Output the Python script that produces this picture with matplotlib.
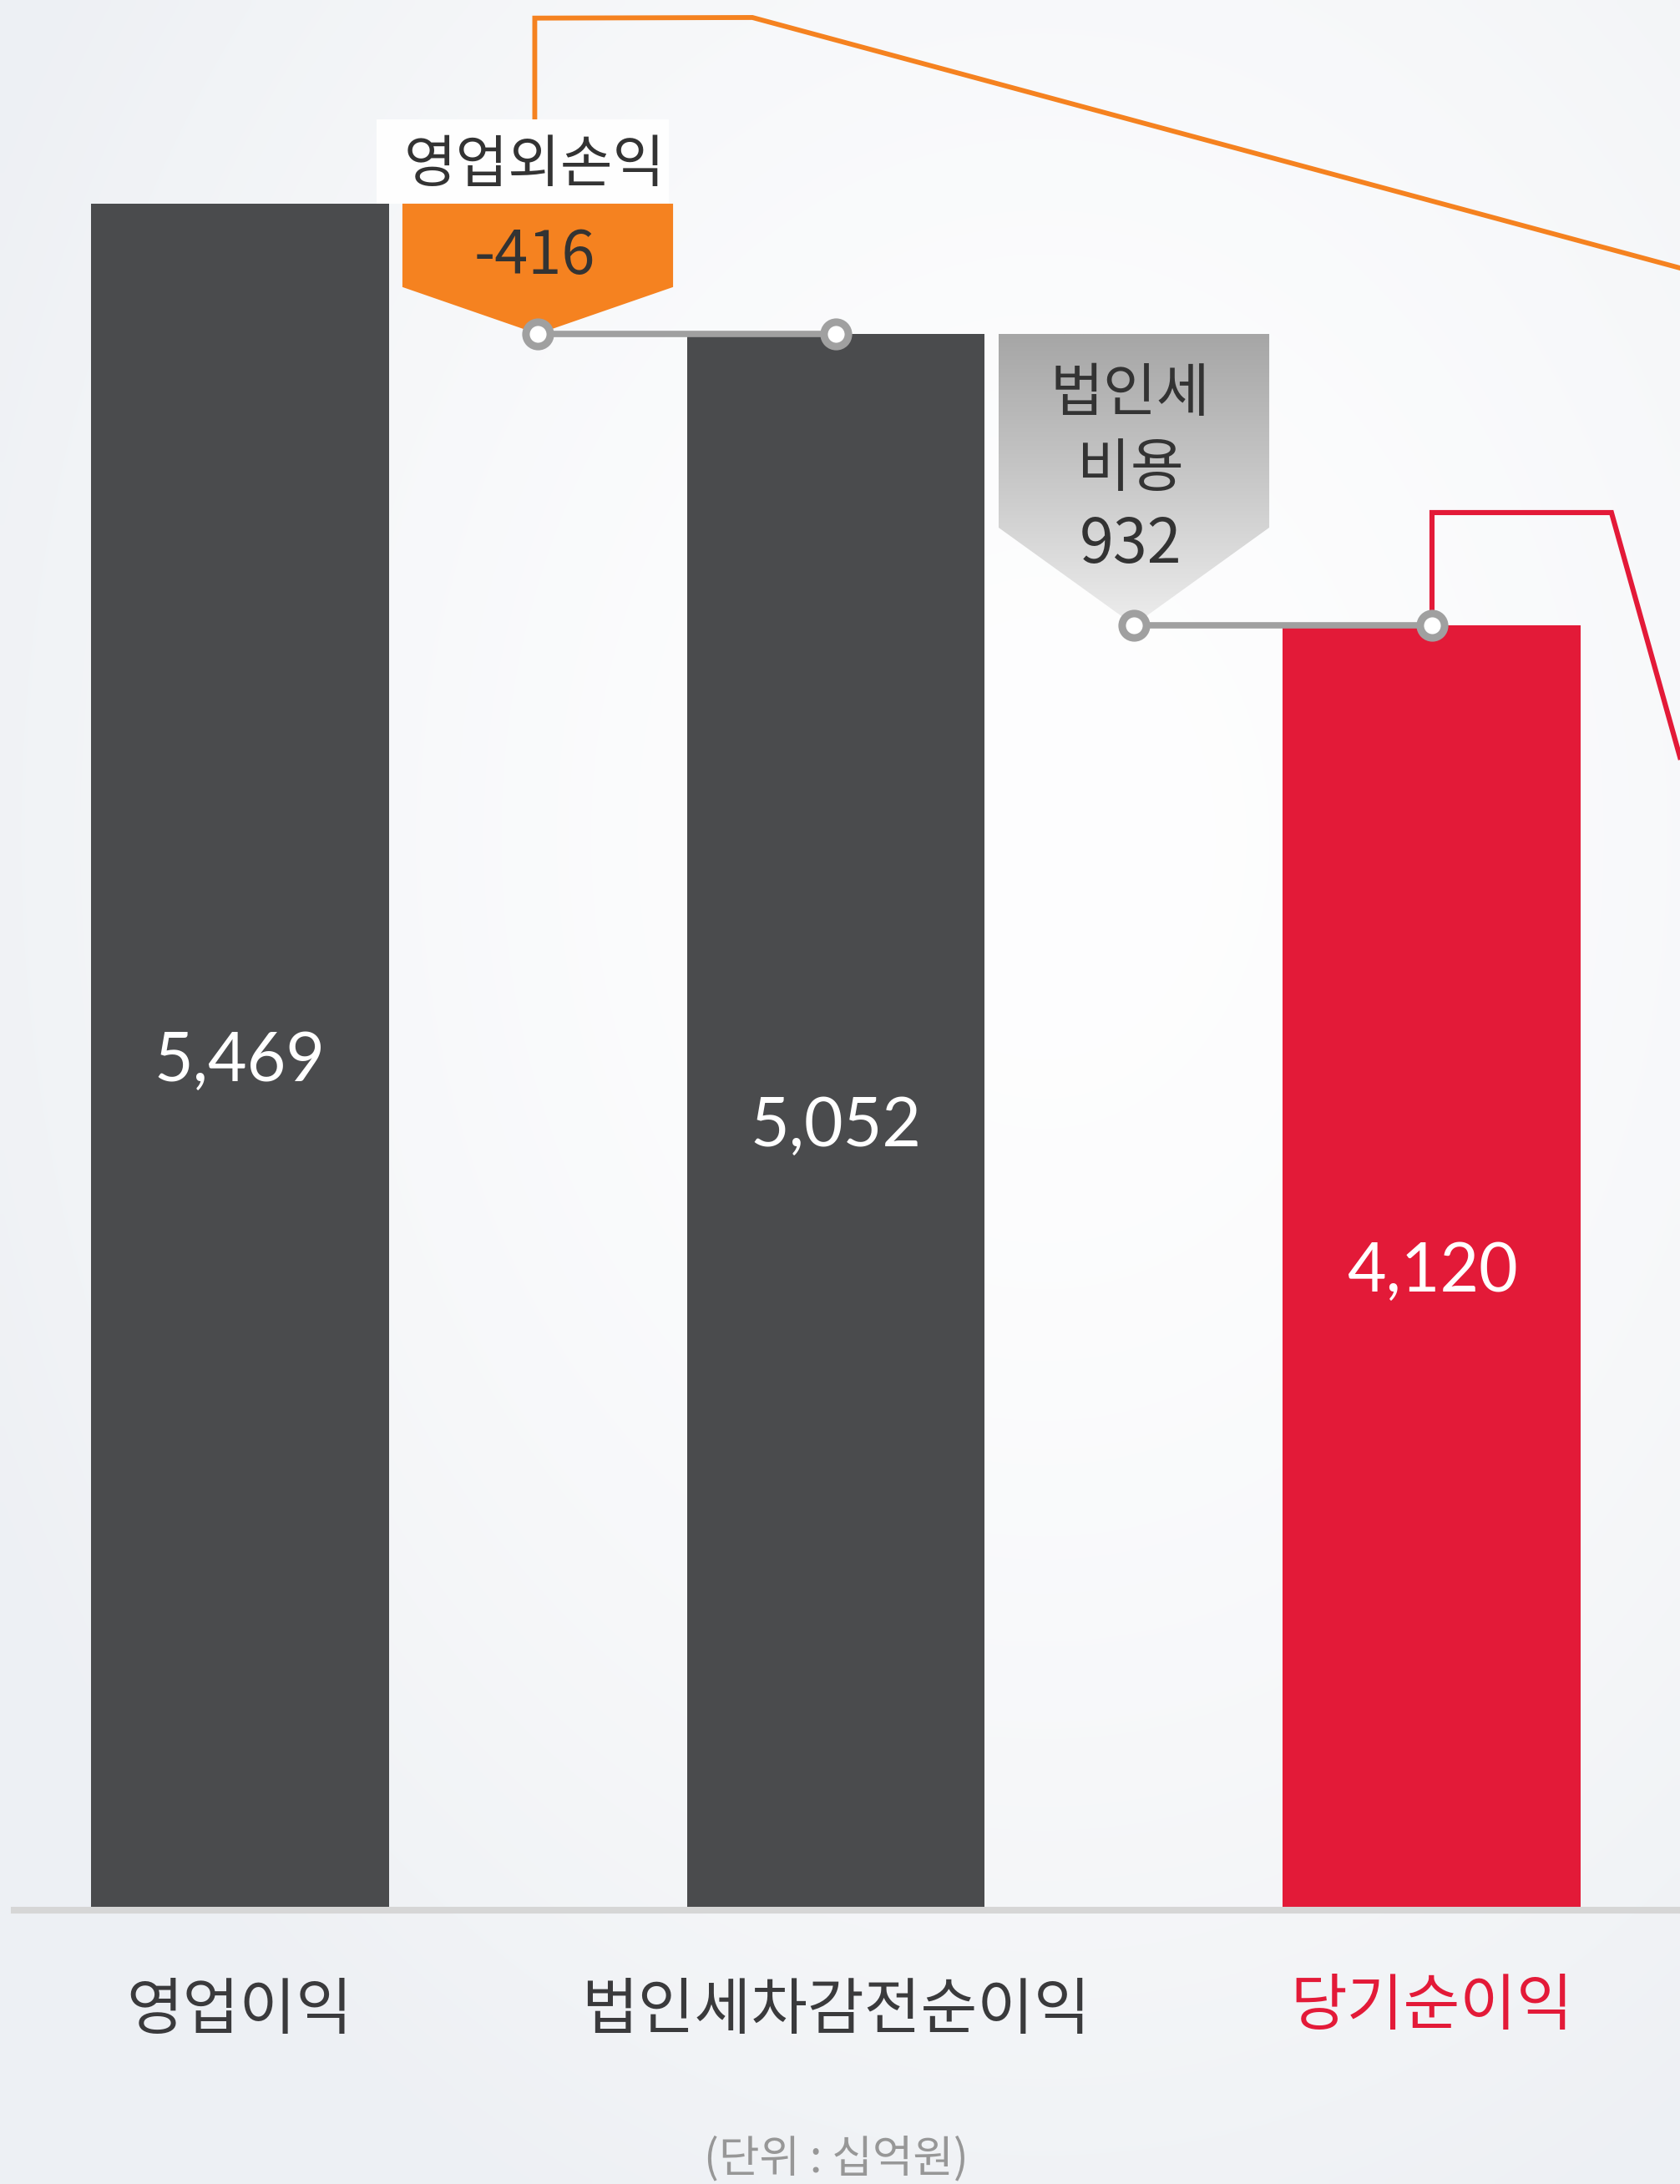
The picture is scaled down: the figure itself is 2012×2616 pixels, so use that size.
import numpy as np
import matplotlib
matplotlib.use("Agg")
import matplotlib.pyplot as plt
from matplotlib.patches import Polygon, Rectangle
from matplotlib.colors import LinearSegmentedColormap

plt.rcParams['font.family'] = ['Noto Sans CJK KR', 'DejaVu Sans']

# ---------------- data ----------------
categories = ['영업이익', '법인세차감전순이익', '당기순이익']
values = [5469, 5052, 4120]
value_labels = ['5,469', '5,052', '4,120']
step_titles = [['영업외손익'], ['법인세', '비용']]
step_labels = ['-416', '932']
unit_label = '(단위 : 십억원)'

# ---------------- style ----------------
DARK = '#4a4b4d'
RED = '#e31a38'
ORANGE = '#f58220'
CONN = '#a0a0a0'
TXT = '#333333'
bar_colors = [DARK, DARK, RED]

fig = plt.figure(figsize=(20.12, 26.16), dpi=100)

# background gradient
bg = fig.add_axes([0, 0, 1, 1], zorder=0)
H, W = 262, 202
yy, xx = np.mgrid[0:H, 0:W]
xx = xx * 10.0
yy = yy * 10.0
d = np.sqrt(((xx - 1250) / 1400) ** 2 + ((yy - 1000) / 1800) ** 2)
shade = np.clip(d, 0, 1) ** 1.6
edge = np.array([0.933, 0.943, 0.957])
img = (1 - shade[..., None]) * np.array([0.996, 0.996, 0.998]) + shade[..., None] * edge
bg.imshow(img, aspect='auto', extent=(0, 1, 0, 1), origin='upper', interpolation='bilinear')
bg.axis('off')

ax = fig.add_axes([0, 0, 1, 1], zorder=1)
ax.patch.set_alpha(0)
XL = (-0.402, 2.416)
YL = (-871, 6121)

x = np.arange(len(categories))
ax.bar(x, values, width=0.5, color=bar_colors, zorder=2)
ax.axhline(5, xmin=0.0085, xmax=1, color='#d6d6d6', lw=5.8, zorder=3)

for i, (v, lab) in enumerate(zip(values, value_labels)):
    ax.text(i, v / 2 - 12, lab, ha='center', va='center', fontsize=58,
            family=['Lato', 'DejaVu Sans'], color='white', zorder=6)

for i, (lab, c) in enumerate(zip(categories, bar_colors)):
    yoff = -305 if c == RED else -318
    ax.text(i, yoff, lab, ha='center', va='center', fontsize=53,
            color=RED if c == RED else '#3a3a3c', zorder=6)

ax.text(1.0, -790, unit_label, ha='center', va='center', fontsize=38,
        color='#979797', zorder=6)

# ---------------- step callouts ----------------
hw = 0.227
shoulders = [150, 312]
for k in range(2):
    cx = k + 0.5
    top = values[k]
    tip = values[k + 1]
    sh = tip + shoulders[k]
    pts = [(cx - hw, top), (cx + hw, top), (cx + hw, sh), (cx, tip), (cx - hw, sh)]
    if k == 0:
        poly = Polygon(pts, closed=True, facecolor=ORANGE, edgecolor='none', zorder=3)
        ax.add_patch(poly)
    else:
        poly = Polygon(pts, closed=True, facecolor='none', edgecolor='none', zorder=3)
        ax.add_patch(poly)
        cmap = LinearSegmentedColormap.from_list('g', ['#a6a6a6', '#c8c8c8', '#ededed'])
        grad = np.linspace(0, 1, 256).reshape(-1, 1)
        im = ax.imshow(grad, cmap=cmap, aspect='auto', origin='upper',
                       extent=(cx - hw, cx + hw, tip, top), zorder=3)
        im.set_clip_path(poly)
    # connector
    ax.plot([cx, k + 1], [tip, tip], color=CONN, lw=5.5, zorder=4, solid_capstyle='butt')
    ax.plot([cx, k + 1], [tip, tip], ls='none', marker='o', ms=21, mfc='white',
            mec=CONN, mew=6.5, zorder=7)

# white label box behind first step title
ax.add_patch(Rectangle((0.23, values[0]), 0.49, 270, facecolor='#fefefe',
                       edgecolor='none', zorder=2.5))
ax.text(0.495, 5590, step_titles[0][0], ha='center', va='center', fontsize=49,
        color=TXT, zorder=6)
ax.text(0.495, 5300, step_labels[0], ha='center', va='center', fontsize=52,
        color=TXT, zorder=6)

ax.text(1.494, 4860, step_titles[1][0], ha='center', va='center', fontsize=50,
        color=TXT, zorder=6)
ax.text(1.494, 4617, step_titles[1][1], ha='center', va='center', fontsize=50,
        color=TXT, zorder=6)
ax.text(1.494, 4376, step_labels[1], ha='center', va='center', fontsize=53,
        color=TXT, zorder=6)

# decorative leader lines
ax.plot([0.495, 0.495, 0.86, 2.416], [5739, 6063, 6065, 5263], color=ORANGE,
        lw=4.2, zorder=1.5, solid_joinstyle='miter')
ax.plot([2.0, 2.0, 2.301, 2.416], [values[2], 4480, 4480, 3697], color=RED,
        lw=4.4, zorder=1.5, solid_joinstyle='miter')

ax.set_xlim(*XL)
ax.set_ylim(*YL)
ax.axis('off')

fig.savefig('out.png', dpi=100)
